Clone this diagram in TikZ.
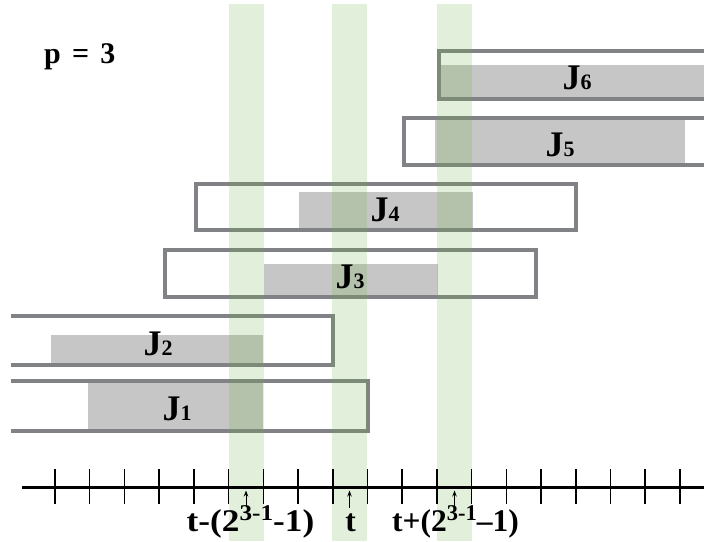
\documentclass[tikz,border=0pt]{standalone}
\usepackage{fontspec}
\setmainfont{Liberation Serif}
\newfontfamily\pfont[WordSpace=1.5]{Liberation Serif}
\usetikzlibrary{arrows.meta}
\definecolor{boxline}{HTML}{808285}
\definecolor{boxfill}{HTML}{C5C6C5}
\definecolor{bandgreen}{HTML}{70AD47}
\tikzset{
  jobframe/.style={draw=boxline, line width=4pt, line join=miter},
  jobfill/.style={fill=boxfill},
  band/.style={fill=bandgreen, fill opacity=0.2},
  axisline/.style={line width=3.3pt},
  tickmark/.style={line width=1.5pt},
  pointer/.style={line width=1pt, -{Stealth[length=6pt,width=4.5pt]}},
  jlabel/.style={anchor=base, inner sep=0pt, font=\fontsize{36}{36}\selectfont\bfseries},
  tlabel/.style={anchor=base west, inner sep=0pt, font=\fontsize{31.5}{31.5}\selectfont\bfseries},
}
\newcommand{\jsub}[1]{{\fontsize{22}{22}\selectfont #1}}
\newcommand{\tsup}[1]{\raisebox{11.7pt}{\fontsize{22.5}{22.5}\selectfont #1}}
\begin{document}
\begin{tikzpicture}[x=1pt,y=-1pt]
\useasboundingbox (0,0) rectangle (704,541);
\clip (0,0) rectangle (704,541);
% grey fills
\path[jobfill] (440,65) rectangle (720,97);
\path[jobfill] (435,117) rectangle (685,165);
\path[jobfill] (299,192) rectangle (472.7,231.7);
\path[jobfill] (264,264) rectangle (437.7,298);
\path[jobfill] (51,335) rectangle (263,365);
\path[jobfill] (88,382) rectangle (263,430);
% frames
\draw[jobframe] (438.5,51) rectangle (722,98.5);
\draw[jobframe] (404,117.5) rectangle (722,164.5);
\draw[jobframe] (195.7,183.5) rectangle (575.8,229.8);
\draw[jobframe] (164.8,249.8) rectangle (535.8,296.7);
\draw[jobframe] (11,315.5) -- (332.5,315.5) -- (332.5,364.5) -- (11,364.5);
\draw[jobframe] (11,381) -- (367.5,381) -- (367.5,430.5) -- (11,430.5);
% green bands
\path[band] (229,4) rectangle (264,541);
\path[band] (332,4) rectangle (367,541);
\path[band] (437,4) rectangle (472,541);
% axis
\draw[axisline] (22,487.3) -- (712,487.3);
\foreach \i in {0,...,18} \draw[tickmark] ({55+34.72*\i},469) -- ++(0,35);
% pointers
\coordinate (a1s) at (246,507);   \coordinate (a1e) at (246,490.5);
\coordinate (a2s) at (349.5,508); \coordinate (a2e) at (349.5,490.5);
\coordinate (a3s) at (454.5,507); \coordinate (a3e) at (454.5,490.5);
\draw[pointer] (a1s) -- (a1e);
\draw[pointer] (a2s) -- (a2e);
\draw[pointer] (a3s) -- (a3e);
% job labels
\node[jlabel] (j6) at (577,89.5) {J\jsub{6}};
\node[jlabel] (j5) at (560,156) {J\jsub{5}};
\node[jlabel] (j4) at (385,221.7) {J\jsub{4}};
\node[jlabel] (j3) at (350,288.3) {J\jsub{3}};
\node[jlabel] (j2) at (158,355.5) {J\jsub{2}};
\node[jlabel] (j1) at (177,420.7) {J\jsub{1}};
% p label
\node[anchor=base west, inner sep=0pt, font=\pfont\fontsize{30}{30}\selectfont\bfseries] (p) at (44,63.5) {p = 3};
% axis labels
\node[tlabel] (lm) at (186.5,531.7) {\scalebox{1.12}[1]{t-(2\tsup{3-1}-1)}};
\node[tlabel, anchor=base] (lc) at (350.5,531.7) {t};
\node[tlabel] (lp) at (392,531.7) {t+(2\tsup{3-1}–1)};
\end{tikzpicture}
\end{document}
